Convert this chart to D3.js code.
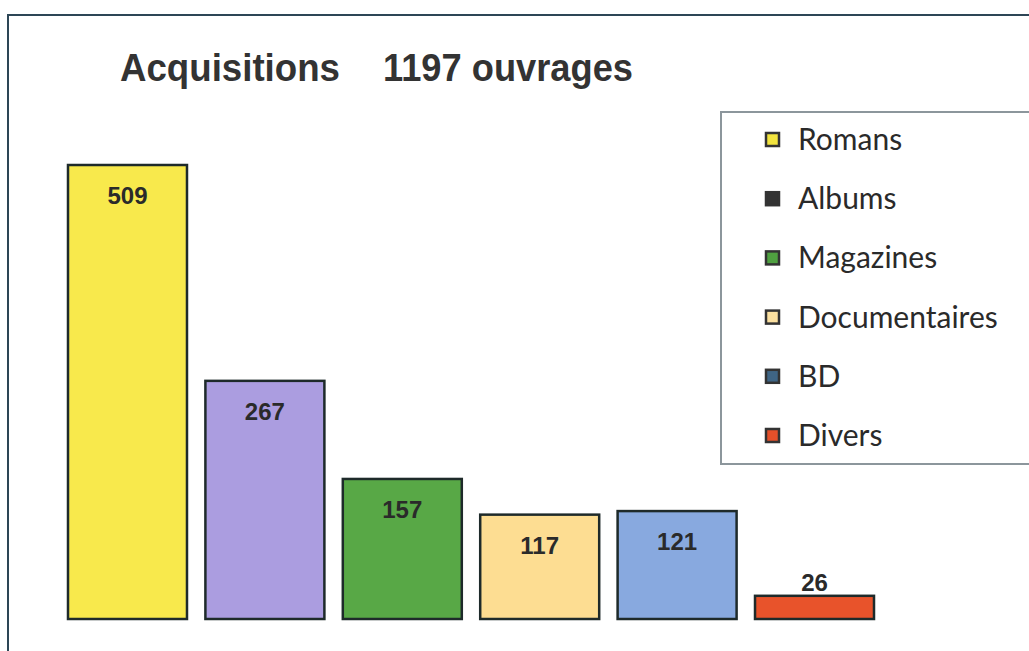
<!DOCTYPE html>
<html>
<head>
<meta charset="utf-8">
<script src="https://cdn.jsdelivr.net/npm/d3@7"></script>
<style>
  body { margin: 0; background: #fff; }
</style>
</head>
<body>
<svg id="chart"></svg>
<script>
// data
const categories = ["Romans", "Albums", "Magazines", "Documentaires", "BD", "Divers"];
const values = [509, 267, 157, 117, 121, 26];
const barColors = ["#f8e94c", "#ab9de0", "#58a846", "#fddd92", "#88a9df", "#e8532b"];
const legendColors = ["#f2e43e", "#333333", "#4fa040", "#fbe0a0", "#3f6585", "#e4502a"];
const titleParts = ["Acquisitions", "1197 ouvrages"];

const width = 1029, height = 651;
const svg = d3.select("#chart").attr("width", width).attr("height", height);

// outer frame of the scanned chart
svg.append("rect")
  .attr("x", 8).attr("y", 15)
  .attr("width", width + 10).attr("height", height)
  .attr("fill", "none")
  .attr("stroke", "#2d4656")
  .attr("stroke-width", 2);

// title: tall, slightly condensed bold
const t = svg.append("text")
  .attr("y", 81)
  .attr("font-family", "Liberation Sans, Arial, sans-serif")
  .attr("font-weight", "bold")
  .attr("font-size", 38)
  .attr("fill", "#333");
t.append("tspan").attr("x", 120)
  .attr("textLength", 220).attr("lengthAdjust", "spacingAndGlyphs")
  .text(titleParts[0]);
t.append("tspan").attr("x", 383)
  .attr("textLength", 250).attr("lengthAdjust", "spacingAndGlyphs")
  .text(titleParts[1]);

const x = d3.scaleBand()
  .domain(categories)
  .range([68, 874])
  .paddingInner(0.134)
  .paddingOuter(0);

const y = d3.scaleLinear()
  .domain([0, 509])
  .range([619, 165]);

svg.append("g")
  .selectAll("rect")
  .data(categories)
  .join("rect")
    .attr("x", d => x(d))
    .attr("y", (d, i) => y(values[i]))
    .attr("width", x.bandwidth())
    .attr("height", (d, i) => y(0) - y(values[i]))
    .attr("fill", (d, i) => barColors[i])
    .attr("stroke", "#1e2a2a")
    .attr("stroke-width", 2.5);

svg.append("g")
  .attr("font-family", "Liberation Sans, Arial, sans-serif")
  .attr("font-weight", "bold")
  .attr("font-size", 24)
  .attr("fill", "#2a2a2a")
  .attr("text-anchor", "middle")
  .selectAll("text")
  .data(categories)
  .join("text")
    .attr("x", d => x(d) + x.bandwidth() / 2)
    .attr("y", (d, i) => values[i] < 60 ? y(values[i]) - 5 : y(values[i]) + 39)
    .text((d, i) => values[i]);

// legend
const legend = svg.append("g");
legend.append("rect")
  .attr("x", 721).attr("y", 112)
  .attr("width", 330).attr("height", 352)
  .attr("fill", "#fff")
  .attr("stroke", "#8c969c")
  .attr("stroke-width", 2);

const ly = d3.scalePoint()
  .domain(categories)
  .range([140, 436]);

const items = legend.selectAll("g.item")
  .data(categories)
  .join("g")
    .attr("class", "item")
    .attr("transform", d => `translate(0,${ly(d)})`);

items.append("rect")
  .attr("x", 766).attr("y", -7)
  .attr("width", 13).attr("height", 13)
  .attr("fill", (d, i) => legendColors[i])
  .attr("stroke", "#333")
  .attr("stroke-width", 2.5);

items.append("text")
  .attr("x", 798).attr("y", 10)
  .attr("font-family", "Lato, 'Open Sans', sans-serif")
  .attr("font-size", 30)
  .attr("fill", "#2a2a2a")
  .text(d => d);
</script>
</body>
</html>
